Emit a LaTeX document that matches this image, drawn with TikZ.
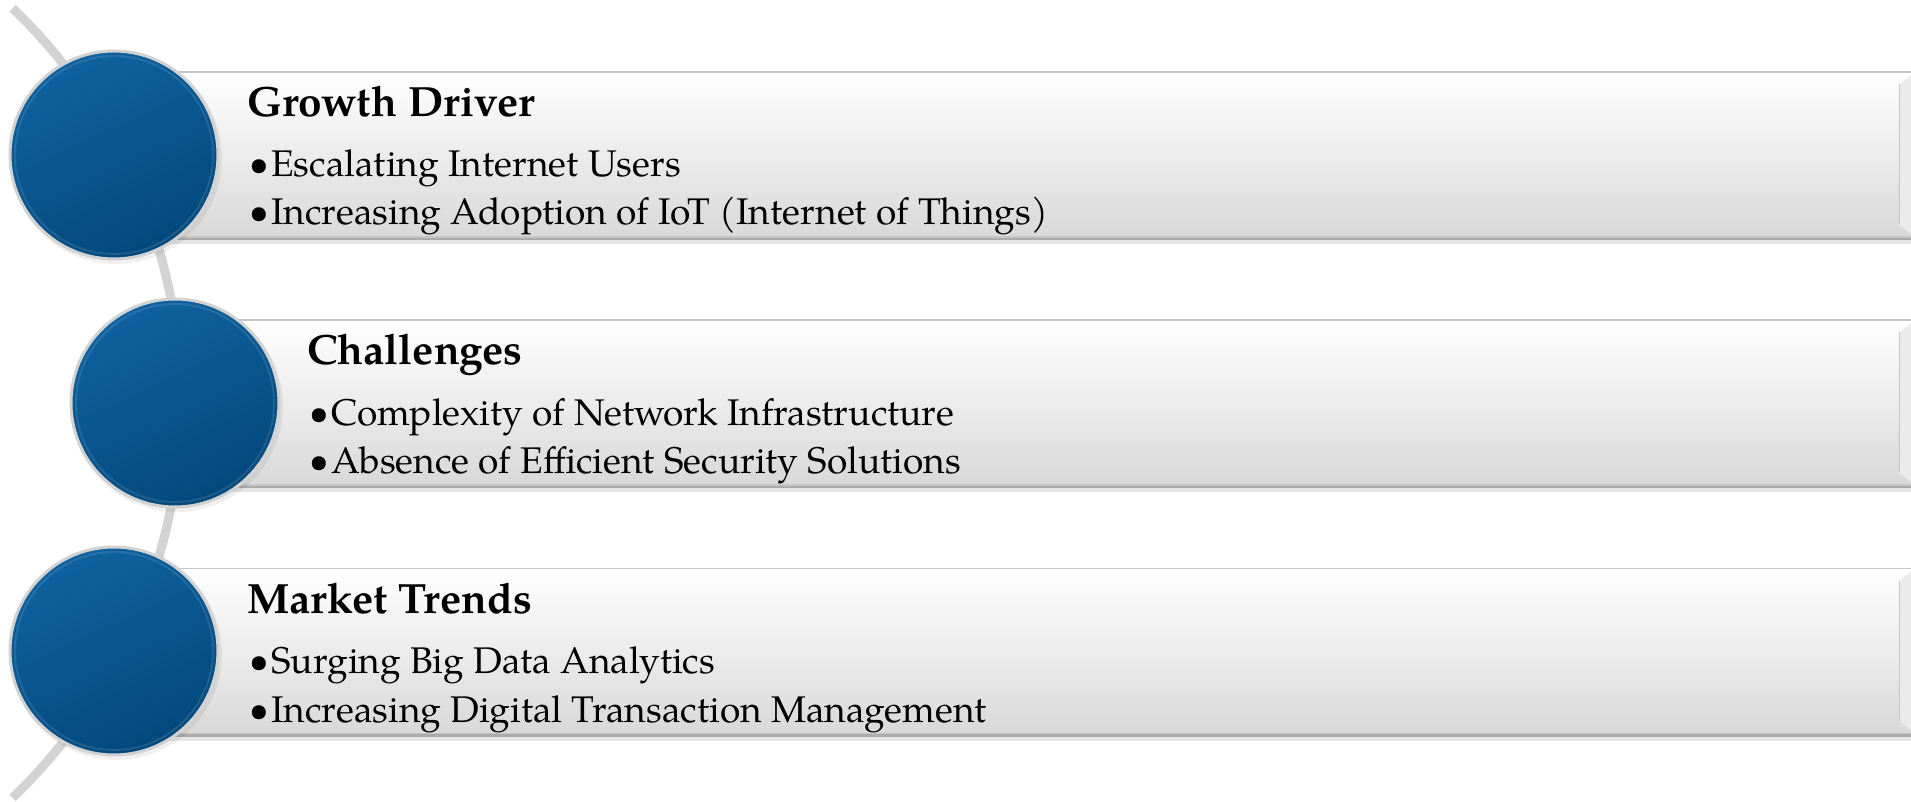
\documentclass[tikz,border=0pt]{standalone}
\usepackage{fontspec}
\setmainfont{TeX Gyre Pagella}
\definecolor{ballA}{HTML}{0F62A0}
\definecolor{ballB}{HTML}{03487C}
\definecolor{arcgray}{HTML}{D3D3D3}
\tikzset{
  bar/.style={draw=gray!45, line width=1.2pt, top color=white, middle color=gray!4, bottom color=gray!30, anchor=west, minimum width=1800pt, minimum height=165pt, inner sep=0pt},
  ball/.style={circle, minimum size=208pt, inner sep=0pt, draw=gray!35, line width=3pt, top color=ballA, bottom color=ballB, shading angle=25},
  head/.style={anchor=base west, inner sep=0pt, font=\bfseries\fontsize{42.3}{48}\selectfont},
  item/.style={anchor=base west, inner sep=0pt, font=\fontsize{37.1}{44}\selectfont},
  dot/.style={anchor=base west, inner sep=0pt, font=\fontsize{35}{40}\selectfont},
}
\begin{document}
\begin{tikzpicture}[x=1pt,y=1pt]
\useasboundingbox (0,0) rectangle (1911,801);
\fill[white] (0,0) rectangle (1911,801);
% background arc
\draw[arcgray, line width=9pt] (-366,398) ++(-46.2:547) arc[start angle=-46.2, end angle=46.2, radius=547];
% bars
\foreach \n/\x/\y in {1/114/646.5, 2/175/398.5, 3/114/150} {
  \fill[black, opacity=0.10] (\x,\y-90) rectangle (1915,\y-80);
  \fill[black, opacity=0.25] (\x,\y-86) rectangle (1915,\y-81);
  \node[bar] (bar\n) at (\x,\y) {};
  \fill[gray!16] (1899,\y+70) -- (1912,\y+80) -- (1912,\y-80) -- (1899,\y-70) -- cycle;
  \draw[gray!45, line width=1pt] (1899,\y+70) -- (1899,\y-70);
}
% circles
\foreach \n/\x/\y in {1/114/646, 2/175/398, 3/114/150} {
  \fill[black, opacity=0.06] (\x+2,\y-3) circle [radius=106];
  \node[ball] (c\n) at (\x,\y) {};
  \draw[white, opacity=0.10, line width=2pt] (\x,\y) circle [radius=99];
}
% texts
\node[head] (h1) at (247,801-117) {Growth Driver};
\node[dot] (b11) at (249,801-176) {•};
\node[item] (t11) at (271,801-177) {Escalating Internet Users};
\node[dot] (b12) at (249,801-224) {•};
\node[item] (t12) at (271,801-225) {Increasing Adoption of IoT (Internet of Things)};

\node[head] (h2) at (307,801-365) {Challenges};
\node[dot] (b21) at (309,801-425) {•};
\node[item] (t21) at (331,801-426) {Complexity of Network Infrastructure};
\node[dot] (b22) at (309,801-473) {•};
\node[item] (t22) at (331,801-474) {Absence of Efficient Security Solutions};

\node[head] (h3) at (247,801-613) {Market Trends};
\node[dot] (b31) at (249,801-672) {•};
\node[item] (t31) at (271,801-673) {Surging Big Data Analytics};
\node[dot] (b32) at (249,801-721) {•};
\node[item] (t32) at (271,801-722) {Increasing Digital Transaction Management};
\end{tikzpicture}
\end{document}
